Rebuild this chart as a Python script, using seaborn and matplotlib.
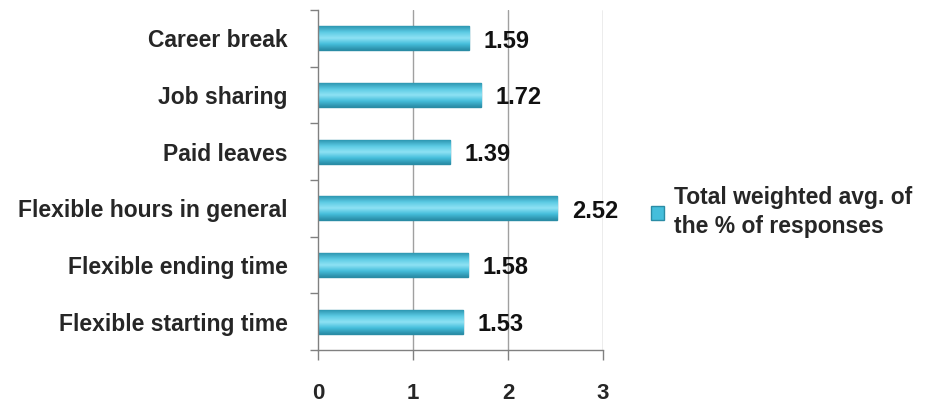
import matplotlib
matplotlib.use("Agg")
import matplotlib.pyplot as plt
import seaborn as sns
import pandas as pd
import numpy as np
from matplotlib.patches import Patch
from matplotlib.colors import LinearSegmentedColormap

categories = ["Career break", "Job sharing", "Paid leaves", "Flexible hours in general",
              "Flexible ending time", "Flexible starting time"]
values = [1.59, 1.72, 1.39, 2.52, 1.58, 1.53]
xticks = [0, 1, 2, 3]
legend_label = "Total weighted avg. of\nthe % of responses"

sns.set_theme(style="white")
plt.rcParams['font.family'] = ['Liberation Sans', 'DejaVu Sans']

df = pd.DataFrame({"cat": categories, "val": values})

fig = plt.figure(figsize=(9.36, 4.07), dpi=100)
ax = fig.add_axes([318/936, 1-350/407, (603-318)/936, (350-10)/407])

sns.barplot(data=df, y="cat", x="val", orient="h", order=categories, ax=ax,
            color="#45BEDB", edgecolor="#2A8CA5", linewidth=1.0, width=0.42, saturation=1)

# gradient shading on bars
cmap = LinearSegmentedColormap.from_list("bar", ["#2A8DA7", "#45BEDB", "#8FE2F4", "#5CCBE4", "#2F98B3"])
grad = np.linspace(0, 1, 64).reshape(-1, 1)
for p in ax.patches:
    x0, y0 = p.get_x(), p.get_y()
    w, h = p.get_width(), p.get_height()
    im = ax.imshow(grad, cmap=cmap, aspect="auto", extent=(x0, x0 + w, y0 + h, y0),
                   origin="lower", zorder=p.get_zorder() + 0.1, interpolation="bilinear")
    im.set_clip_path(p)

ax.set_xlim(0, 3)
ax.set_ylim(5.5, -0.5)
ax.set_xticks(xticks)
ax.set_xticklabels([str(t) for t in xticks], fontsize=16, fontweight="bold")
ax.tick_params(axis="x", pad=17, length=7, width=1, color="#808080", direction="out", bottom=True)
ax.set_yticks(range(len(categories)))
ax.set_yticklabels(categories, fontsize=16.5, fontweight="bold")
ax.tick_params(axis="y", which="major", length=0, pad=22)
ax.set_yticks(np.arange(-0.5, 6.0, 1.0), minor=True)
ax.tick_params(axis="y", which="minor", length=6, width=1, color="#808080", left=True)
ax.set_xlabel("")
ax.set_ylabel("")

for xv in [1, 2, 3]:
    ax.axvline(xv, color="#A0A0A0", linewidth=1, zorder=0)

for s in ["top", "right"]:
    ax.spines[s].set_visible(False)
for s in ["left", "bottom"]:
    ax.spines[s].set_color("#808080")
    ax.spines[s].set_linewidth(1)

for i, v in enumerate(values):
    ax.text(v + 0.15, i + 0.05, f"{v:.2f}", va="center", ha="left",
            fontsize=17, fontweight="bold", color="#111111")

handle = Patch(facecolor="#45BEDB", edgecolor="#2A8CA5")
fig.legend([handle], [legend_label], loc="center left", bbox_to_anchor=(630/936, 1-212/407),
           frameon=False, prop={"weight": "bold", "size": 16.5},
           handlelength=0.6, handleheight=0.6, handletextpad=0.4)
for t in fig.legends[0].get_texts():
    t.set_linespacing(1.35)

fig.savefig("out.png", dpi=100, facecolor="white")
